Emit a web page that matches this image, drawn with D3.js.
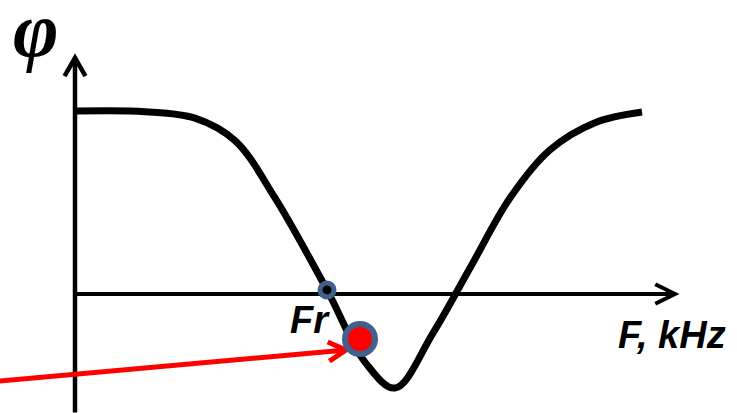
<!DOCTYPE html>
<html>
<head>
<meta charset="utf-8">
<script src="https://cdn.jsdelivr.net/npm/d3@7"></script>
<style>
  html, body { margin: 0; padding: 0; background: #fff; }
  .lbl { font-family: "Liberation Sans", Arial, sans-serif; font-weight: bold; font-style: italic; font-size: 38px; fill: #000; }
  .phi { font-family: "Liberation Serif", "Times New Roman", serif; font-weight: bold; font-style: italic; font-size: 78px; fill: #000; }
</style>
</head>
<body>
<svg id="svg1" width="737" height="413"></svg>
<script>
const svg1 = d3.select("#svg1");

// phase curve, frequency (arbitrary units) vs phase (deg)
const freq  = [0.04, 1.4, 2.4, 3.2, 4.0, 5.04, 5.8, 6.4, 7.16, 7.9, 8.7, 9.5, 10.4, 11.34];
const phase = [89.5, 89.2, 86.0, 75.0, 47.0, 2.0, -33.3, -46.0, -19.1, 12.7, 47.0, 70.5, 83.8, 89.0];

// axis extents
const xAxisEnd = 12;
const yAxisTop = 115.5;
const yAxisBottom = -58;

// marked points
const frPoint = [5.04, 2];
const redPoint = [5.7, -22];
// red pointer arrow (start off to the left, tip near red point)
const pointerFrom = [-1.6, -42.8];
const pointerTo = [5.42, -27.4];

const data = freq.map((f, i) => ({ f: f, p: phase[i] }));

const xScale = d3.scaleLinear().domain([0, 12]).range([75, 675]);
const yScale = d3.scaleLinear().domain([0, 90]).range([294, 110]);

// arrow head helper: chevron at tip (x2,y2) pointing along the line
const chevron = (x1, y1, x2, y2, len, ang) => {
  const a = Math.atan2(y2 - y1, x2 - x1);
  const p1 = [x2 - len * Math.cos(a - ang), y2 - len * Math.sin(a - ang)];
  const p2 = [x2 - len * Math.cos(a + ang), y2 - len * Math.sin(a + ang)];
  return `M${p1[0]},${p1[1]}L${x2},${y2}L${p2[0]},${p2[1]}`;
};

const a = svg1.append('g');

/* y axis */
a.append('line')
  .attr('x1', xScale(0)).attr('y1', yScale(yAxisBottom))
  .attr('x2', xScale(0)).attr('y2', yScale(yAxisTop))
  .attr('stroke', '#000').attr('stroke-width', 4.5);
a.append('path')
  .attr('d', chevron(xScale(0), yScale(0), xScale(0), yScale(yAxisTop), 21, 0.52))
  .attr('fill', 'none').attr('stroke', '#000').attr('stroke-width', 4.5);

/* x axis */
a.append('line')
  .attr('x1', xScale(0)).attr('y1', yScale(0))
  .attr('x2', xScale(xAxisEnd)).attr('y2', yScale(0))
  .attr('stroke', '#000').attr('stroke-width', 4);
a.append('path')
  .attr('d', chevron(xScale(0), yScale(0), xScale(xAxisEnd), yScale(0), 22, 0.46))
  .attr('fill', 'none').attr('stroke', '#000').attr('stroke-width', 4);

/* phase curve */
const line = d3.line()
  .x(d => xScale(d.f))
  .y(d => yScale(d.p))
  .curve(d3.curveCatmullRom.alpha(0.5));

a.append('path')
  .datum(data)
  .attr('d', line)
  .attr('fill', 'none')
  .attr('stroke', '#000')
  .attr('stroke-width', 7)
  .attr('stroke-linejoin', 'round');

/* red pointer */
const px1 = xScale(pointerFrom[0]), py1 = yScale(pointerFrom[1]);
const px2 = xScale(pointerTo[0]), py2 = yScale(pointerTo[1]);
a.append('line')
  .attr('x1', px1).attr('y1', py1).attr('x2', px2).attr('y2', py2)
  .attr('stroke', '#ff0000').attr('stroke-width', 5);
a.append('path')
  .attr('d', chevron(px1, py1, px2, py2, 20, 0.5))
  .attr('fill', 'none').attr('stroke', '#ff0000').attr('stroke-width', 5);

/* points */
a.append('circle')
  .attr('cx', xScale(frPoint[0])).attr('cy', yScale(frPoint[1]))
  .attr('r', 7).attr('fill', '#000')
  .attr('stroke', '#41608c').attr('stroke-width', 5);
a.append('circle')
  .attr('cx', xScale(redPoint[0])).attr('cy', yScale(redPoint[1]))
  .attr('r', 15).attr('fill', '#ff0000')
  .attr('stroke', '#41608c').attr('stroke-width', 6);

/* labels */
a.append('text').attr('class', 'lbl').attr('x', 290).attr('y', 333).text('Fr');
a.append('text').attr('class', 'lbl').attr('x', 618).attr('y', 348).text('F, kHz');
a.append('text').attr('class', 'phi').attr('x', 13).attr('y', 56).text('φ');
</script>
</body>
</html>
